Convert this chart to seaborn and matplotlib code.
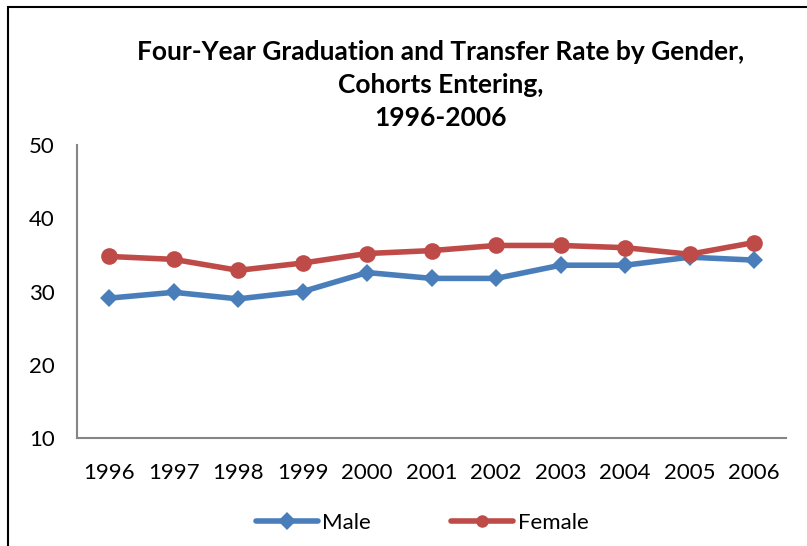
import pandas as pd
import numpy as np
import matplotlib.pyplot as plt
import seaborn as sb
from matplotlib.patches import Rectangle

# values
years = ['1996', '1997', '1998', '1999', '2000', '2001', '2002', '2003', '2004', '2005', '2006']
male = [29.1, 29.9, 29.0, 30.0, 32.6, 31.8, 31.8, 33.6, 33.6, 34.7, 34.3]
female = [34.8, 34.4, 32.9, 33.9, 35.2, 35.6, 36.3, 36.3, 36.0, 35.1, 36.7]

df = pd.DataFrame({'year': years, 'Male': male, 'Female': female})
df['pos'] = range(len(years))

sb.set_style('white', {'text.color': 'black', 'xtick.color': 'black', 'ytick.color': 'black'})
plt.rcParams['font.family'] = ['Lato', 'DejaVu Sans']

fig = plt.figure(figsize=(8.07, 5.46), dpi=100)
ax = fig.add_axes([0.0954, 0.198, 0.879, 0.536])

sb.lineplot(data=df, x='pos', y='Male', ax=ax, color='#4a7ebb', linewidth=4,
            marker='D', markersize=9, markeredgewidth=0, label='Male')
sb.lineplot(data=df, x='pos', y='Female', ax=ax, color='#be4b48', linewidth=4,
            marker='o', markersize=12, markeredgewidth=0, label='Female')

ax.set_xlim(-0.5, len(years) - 0.5)
ax.set_ylim(10, 50)
ax.set_yticks([10, 20, 30, 40, 50])
ax.set_xticks(df['pos'])
ax.set_xticklabels(years)
ax.set_xlabel('')
ax.set_ylabel('')
ax.tick_params(axis='both', length=0, labelsize=16, colors='black')
ax.tick_params(axis='x', pad=18)
ax.tick_params(axis='y', pad=16)
for s in ['top', 'right']:
    ax.spines[s].set_visible(False)
for s in ['left', 'bottom']:
    ax.spines[s].set_color('#868686')
    ax.spines[s].set_linewidth(1.5)

fig.text(0.546, 0.844, 'Four-Year Graduation and Transfer Rate by Gender,\nCohorts Entering,\n1996-2006',
         ha='center', va='center', fontsize=19, fontweight='bold', linespacing=1.45, color='black')

leg = ax.legend(loc='center', bbox_to_anchor=(0.523, 0.042), bbox_transform=fig.transFigure,
                ncol=2, frameon=False, fontsize=16, handlelength=2.8, handletextpad=0.2,
                columnspacing=3.6, labelcolor='black')
for h in leg.legend_handles:
    h.set_markersize(9)

fig.patches.append(Rectangle((8 / 807, -0.1), 1.2, 1 - 7 / 546 + 0.1, transform=fig.transFigure,
                             fill=False, edgecolor='black', linewidth=1.5))

fig.savefig('out.png', dpi=100)
